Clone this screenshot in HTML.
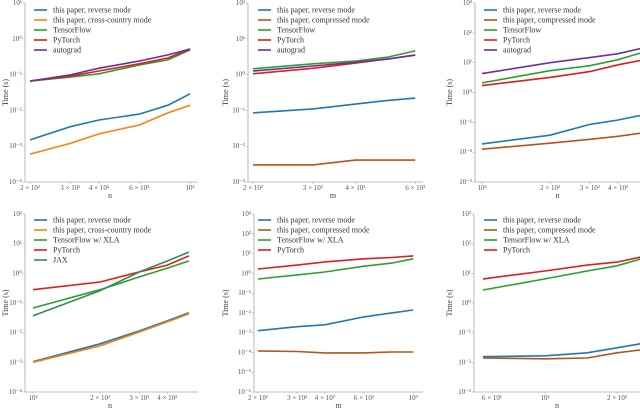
<!DOCTYPE html>
<html><head><meta charset="utf-8"><style>
html,body{margin:0;padding:0;background:#fff;}
svg{display:block;font-family:"Liberation Serif",serif;}
</style></head><body>
<svg id="chart" width="640" height="408" viewBox="0 0 640 408"></svg>
<script>
// ---- data ----
const p1X=[200,300,400,600,800,1000];
const p1Rev=[0.0015,0.0035,0.0054,0.0079,0.014,0.029];
const p1Cross=[0.0006,0.0012,0.0022,0.0039,0.0085,0.014];
const p1TF=[0.066,0.085,0.105,0.186,0.257,0.49];
const p1Torch=[0.066,0.091,0.126,0.2,0.29,0.52];
const p1Auto=[0.066,0.098,0.151,0.24,0.355,0.52];

const p2X=[200,300,400,500,600];
const p2Rev=[0.085,0.11,0.15,0.19,0.22];
const p2Comp=[0.003,0.003,0.0041,0.0041,0.0041];
const p2TF=[1.45,2.0,2.4,3.1,4.6];
const p2Torch=[1.05,1.5,2.1,2.75,3.5];
const p2Auto=[1.26,1.74,2.2,2.75,3.5];

const p3X=[100,200,300,400,500];
const p3Rev=[0.019,0.037,0.085,0.12,0.17];
const p3Comp=[0.0126,0.02,0.027,0.034,0.043];
const p3TF=[2.1,5.4,7.9,12.6,21];
const p3Torch=[1.7,3.2,5,8.5,11.7];
const p3Auto=[4.3,10,14.8,20,29.5];

const p4X=[100,200,300,400,500];
const p4Rev=[0.00105,0.0042,0.0115,0.025,0.047];
const p4Cross=[0.001,0.0036,0.0105,0.023,0.043];
const p4TF=[0.068,0.28,0.76,1.5,2.6];
const p4Torch=[0.28,0.51,1.12,1.9,3.9];
const p4Jax=[0.037,0.26,1.12,2.6,5.2];

const p5X=[200,300,400,600,800,1000];
const p5Rev=[0.00126,0.002,0.0025,0.0063,0.01,0.014];
const p5Comp=[0.00012,0.000112,0.000095,0.000095,0.000105,0.000105];
const p5TF=[0.52,0.83,1.17,2.3,3.3,5.4];
const p5Torch=[1.66,2.6,3.8,5.4,6.3,7.6];

const p6X=[55,100,150,200,250];
const p6Rev=[0.0155,0.0166,0.021,0.031,0.042];
const p6Comp=[0.014,0.0132,0.014,0.021,0.026];
const p6TF=[2.75,6.5,12,18,30];
const p6Torch=[6.5,12,19,24,35];

const p1XTicks=[[200,"2 × 10²"],[300,"3 × 10²"],[400,"4 × 10²"],[600,"6 × 10²"],[1000,"10³"]];
const p2XTicks=[[200,"2 × 10²"],[300,"3 × 10²"],[400,"4 × 10²"],[600,"6 × 10²"]];
const p3XTicks=[[100,"10²"],[200,"2 × 10²"],[300,"3 × 10²"],[400,"4 × 10²"]];
const p4XTicks=[[100,"10²"],[200,"2 × 10²"],[300,"3 × 10²"],[400,"4 × 10²"]];
const p5XTicks=[[200,"2 × 10²"],[300,"3 × 10²"],[400,"4 × 10²"],[600,"6 × 10²"],[1000,"10³"]];
const p6XTicks=[[60,"6 × 10¹"],[100,"10²"],[200,"2 × 10²"]];

const C={blue:"#1f77b4",orange:"#ff7f0e",green:"#2ca02c",red:"#e41a1c",purple:"#6a2fa0",brown:"#b5541b",jax:"#2e8b57"};
const sup={"-":"⁻","0":"⁰","1":"¹","2":"²","3":"³","4":"⁴","5":"⁵","6":"⁶"};
function expLabel(e){return "10"+String(e).split("").map(c=>sup[c]).join("");}

const panels=[
 {name:"panel-1",ax:25,top:3,bot:182,right:198,yTop:1,yBot:-4,x0:200,x0px:30,pxDec:229,xlabel:"n",ticks:p1XTicks,xs:p1X,
  series:[["this paper, reverse mode",C.blue,p1Rev],["this paper, cross-country mode",C.orange,p1Cross],["TensorFlow",C.green,p1TF],["PyTorch",C.red,p1Torch],["autograd",C.purple,p1Auto]],lx:34,ly:10,ylab:8},
 {name:"panel-2",ax:248,top:3,bot:182,right:423,yTop:2,yBot:-3,x0:200,x0px:253,pxDec:340,xlabel:"m",ticks:p2XTicks,xs:p2X,
  series:[["this paper, reverse mode",C.blue,p2Rev],["this paper, compressed mode",C.brown,p2Comp],["TensorFlow",C.green,p2TF],["PyTorch",C.red,p2Torch],["autograd",C.purple,p2Auto]],lx:258,ly:10,ylab:228},
 {name:"panel-3",ax:475,top:3,bot:182,right:640,yTop:3,yBot:-3,x0:100,x0px:482,pxDec:226,xlabel:"n",ticks:p3XTicks,xs:p3X,
  series:[["this paper, reverse mode",C.blue,p3Rev],["this paper, compressed mode",C.brown,p3Comp],["TensorFlow",C.green,p3TF],["PyTorch",C.red,p3Torch],["autograd",C.purple,p3Auto]],lx:484,ly:10,ylab:452},
 {name:"panel-4",ax:25,top:214,bot:392,right:198,yTop:2,yBot:-4,x0:100,x0px:33,pxDec:223,xlabel:"n",ticks:p4XTicks,xs:p4X,
  series:[["this paper, reverse mode",C.blue,p4Rev],["this paper, cross-country mode",C.orange,p4Cross],["TensorFlow w/ XLA",C.green,p4TF],["PyTorch",C.red,p4Torch],["JAX",C.jax,p4Jax]],lx:34,ly:220,ylab:8},
 {name:"panel-5",ax:254,top:214,bot:392,right:423,yTop:3,yBot:-6,x0:200,x0px:258,pxDec:222,xlabel:"m",ticks:p5XTicks,xs:p5X,
  series:[["this paper, reverse mode",C.blue,p5Rev],["this paper, compressed mode",C.brown,p5Comp],["TensorFlow w/ XLA",C.green,p5TF],["PyTorch",C.red,p5Torch]],lx:258,ly:220,ylab:228},
 {name:"panel-6",ax:474,top:214,bot:392,right:640,yTop:3,yBot:-3,x0:60,x0px:492,pxDec:239,xlabel:"n",ticks:p6XTicks,xs:p6X,
  series:[["this paper, reverse mode",C.blue,p6Rev],["this paper, compressed mode",C.brown,p6Comp],["TensorFlow w/ XLA",C.green,p6TF],["PyTorch",C.red,p6Torch]],lx:484,ly:220,ylab:452}
];

const NS="http://www.w3.org/2000/svg";
const svg=document.getElementById("chart");
function mk(tag,attrs,parent,text){const e=document.createElementNS(NS,tag);for(const k in attrs)e.setAttribute(k,attrs[k]);if(text!==undefined)e.textContent=text;parent.appendChild(e);return e;}

panels.forEach((p,pi)=>{
  const g=mk("g",{},svg);
  
  
  const dec=(p.bot-p.top)/(p.yTop-p.yBot);
  const yScale=v=>p.top+(p.yTop-Math.log10(v))*dec;
  const xScale=v=>p.x0px+Math.log10(v/p.x0)*p.pxDec;
  const ya=mk("line",{x1:p.ax,y1:p.top,x2:p.ax,y2:p.bot,stroke:"#aaa","stroke-width":0.8},g);
  
  
  const xa=mk("line",{x1:p.ax,y1:p.bot,x2:p.right,y2:p.bot,stroke:"#aaa","stroke-width":0.8},g);
  
  
  for(let e=p.yTop;e>=p.yBot;e--){
    const y=p.top+(p.yTop-e)*dec;
    mk("line",{x1:p.ax-2.5,y1:y,x2:p.ax,y2:y,stroke:"#aaa","stroke-width":0.6},g);
    if(e>p.yBot){for(let m=2;m<10;m++){const ym=y+Math.log10(10/m)*dec;mk("line",{x1:p.ax-1.3,y1:ym,x2:p.ax,y2:ym,stroke:"#ccc","stroke-width":0.4},g);}}
    const t=mk("text",{x:p.ax-3,y:y+2,"font-size":7,fill:"#555","text-anchor":"end"},g,expLabel(e));
    
    
  }
  p.ticks.forEach(tk=>{
    const x=xScale(tk[0]);
    mk("line",{x1:x,y1:p.bot,x2:x,y2:p.bot+2,stroke:"#aaa","stroke-width":0.6},g);
    const t=mk("text",{x:x,y:p.bot+8,"font-size":7,fill:"#555","text-anchor":"middle"},g,tk[1]);
    
    
  });
  const xl=mk("text",{x:(p.ax+Math.min(p.right,p.ax+170))/2,y:p.bot+16,"font-size":8,fill:"#444","text-anchor":"middle"},g,p.xlabel);
  
  
  const cy=(p.top+p.bot)/2;
  const yl=mk("text",{x:p.ylab,y:cy,"font-size":8,fill:"#444","text-anchor":"middle",transform:`rotate(-90 ${p.ylab} ${cy})`},g,"Time (s)");
  
  
  const cid="clip"+pi;
  const cp=mk("clipPath",{id:cid},g);
  mk("rect",{x:p.ax,y:p.top-2,width:p.right-p.ax,height:p.bot-p.top+2},cp);
  p.series.forEach(s=>{
    const pts=p.xs.map((xv,i)=>xScale(xv).toFixed(1)+","+yScale(s[2][i]).toFixed(1)).join(" ");
    const pl=mk("polyline",{points:pts,fill:"none",stroke:s[1],"stroke-width":1.6,"clip-path":`url(#${cid})`},g);
    
    
  });
  const lg=mk("g",{},g);
  
  
  p.series.forEach((s,i)=>{
    const y=p.ly+i*10;
    mk("line",{x1:p.lx,y1:y,x2:p.lx+13,y2:y,stroke:s[1],"stroke-width":1.6},lg);
    const t=mk("text",{x:p.lx+19,y:y+2.5,"font-size":8,fill:"#333"},lg,s[0]);
    
    
  });
});
</script>
</body></html>
